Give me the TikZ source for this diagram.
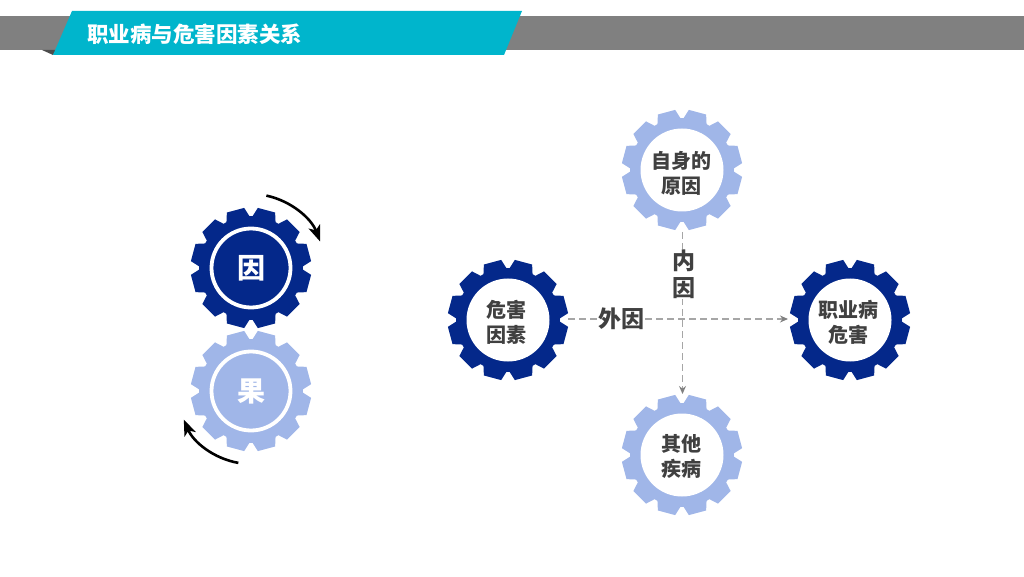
\documentclass[tikz,border=0pt]{standalone}
\usepackage{fontspec}
\setmainfont{Noto Sans CJK SC}
\usetikzlibrary{arrows.meta}
\definecolor{gearDark}{HTML}{04288A}
\definecolor{gearLight}{HTML}{A0B6E8}
\definecolor{labelGrey}{HTML}{404040}
\definecolor{dashGrey}{HTML}{A6A6A6}
\definecolor{bannerCyan}{HTML}{00B5CC}
\definecolor{barGrey}{HTML}{808080}
\newcommand{\gearshape}[3]{%
  \begin{scope}[shift={(#1,#2)}]
    \fill[#3] (0,0) circle[radius=52pt];
    \foreach \a in {15,45,...,345} {
      \fill[#3] (\a-13.5:51.5pt) -- (\a-8.5:60.5pt) -- (\a+8.5:60.5pt) -- (\a+13.5:51.5pt) -- cycle;
    }
  \end{scope}}
\tikzset{
  disc/.style={circle,fill=white,minimum size=83pt,inner sep=0pt},
  disctext/.style={align=center,text=labelGrey,inner sep=0pt,
    font=\fontsize{20}{25}\selectfont\bfseries},
  ringdisc/.style={circle,draw=white,line width=3.8pt,minimum size=79pt,inner sep=0pt,text=white,
    font=\fontsize{28}{32}\selectfont\bfseries},
  flow/.style={draw=dashGrey,line width=1.3pt,dash pattern=on 7pt off 4pt,
    -{Stealth[length=8pt,width=7pt,fill=gray,color=gray]}},
  turn/.style={black,line width=2.6pt,-{Stealth[length=16pt,width=12pt,inset=4pt]}},
  tag/.style={fill=white,inner sep=1pt,text=labelGrey,align=center,
    font=\fontsize{23}{27}\selectfont\bfseries}
}
\begin{document}
\begin{tikzpicture}[x=1pt,y=1pt]
\useasboundingbox (0,0) rectangle (1024,576);
% header
\fill[barGrey] (0,526) rectangle (1024,560);
\fill[black!70] (42,526) -- (56,526) -- (53,521) -- cycle;
\fill[bannerCyan] (72,565) -- (522,565) -- (504,521) -- (53,521) -- cycle;
\node[text=white,anchor=west,inner sep=0pt,font=\fontsize{21.5}{24}\selectfont\bfseries] (title) at (87,542) {职业病与危害因素关系};
% left gears
\gearshape{251}{308}{gearDark}
\gearshape{251}{185}{gearLight}
\node[ringdisc] (cause) at (251,308) {因};
\node[ringdisc] (effect) at (251,185) {\raisebox{-1.5pt}{果}};
\draw[turn] ([shift={(78:74pt)}]cause.center) arc[start angle=78,end angle=21,radius=74pt];
\draw[turn] ([shift={(260:73pt)}]effect.center) arc[start angle=260,end angle=203,radius=73pt];
% right gears
\gearshape{682}{406}{gearLight}
\gearshape{508}{256}{gearDark}
\gearshape{850}{256}{gearDark}
\gearshape{682}{121}{gearLight}
\node[disc] (self) at (682,406) {};
\node[disc] (hazard) at (508,256) {};
\node[disc] (harm) at (850,256) {};
\node[disc] (other) at (682,121) {};
\node[disctext] (selfT) at (681.5,403) {自身的\\原因};
\node[disctext] (hazardT) at (506,254) {危害\\因素};
\node[disctext] (harmT) at (848,254) {职业病\\危害};
\node[disctext] (otherT) at (681,119) {其他\\疾病};
\coordinate (hs) at (568,257);
\coordinate (he) at (788,257);
\coordinate (vs) at (682.5,344);
\coordinate (ve) at (682.5,182);
\draw[flow] (hs) -- (he);
\draw[flow] (vs) -- (ve);
\node[tag] (outer) at (621,257) {外因};
\node[tag] (inner) at (683.5,302) {内\\因};
\end{tikzpicture}
\end{document}
